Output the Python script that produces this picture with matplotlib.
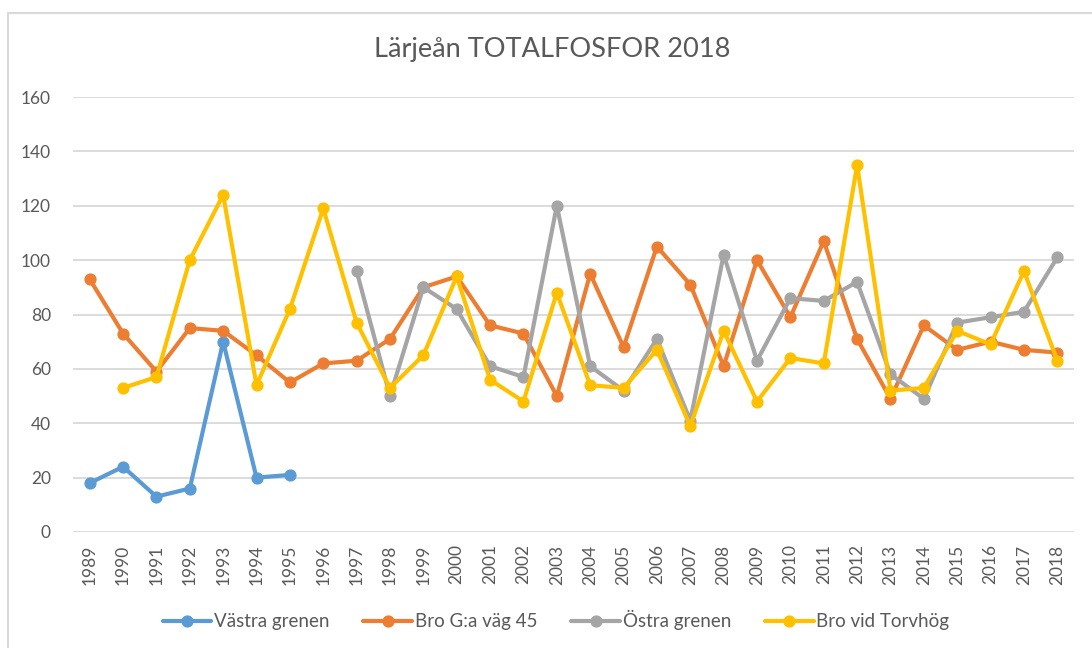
import numpy as np
import matplotlib
matplotlib.use("Agg")
from matplotlib import pyplot as plt
from matplotlib.patches import Rectangle

years = list(range(1989, 2019))
vastra = [18, 24, 13, 16, 70, 20, 21] + [None] * 23
bro_g45 = [93, 73, 59, 75, 74, 65, 55, 62, 63, 71, 90, 94, 76, 73, 50,
           95, 68, 105, 91, 61, 100, 79, 107, 71, 49, 76, 67, 70, 67, 66]
ostra = [None] * 8 + [96, 50, 90, 82, 61, 57, 120, 61, 52, 71, 41, 102,
                      63, 86, 85, 92, 58, 49, 77, 79, 81, 101]
torvhog = [None, 53, 57, 100, 124, 54, 82, 119, 77, 53, 65, 94, 56, 48, 88,
           54, 53, 67, 39, 74, 48, 64, 62, 135, 52, 53, 74, 69, 96, 63]

series = [
    ("Västra grenen", vastra, "#5B9BD5"),
    ("Bro G:a väg 45", bro_g45, "#ED7D31"),
    ("Östra grenen", ostra, "#A5A5A5"),
    ("Bro vid Torvhög", torvhog, "#FFC000"),
]

text_color = "#595959"
plt.rcParams['font.family'] = ['Lato', 'DejaVu Sans']

fig = plt.figure(figsize=(10.92, 6.48), dpi=100)
ax = fig.add_axes([73 / 1092, 1 - 532 / 648, (1074 - 73) / 1092, (532 - 97) / 648])

# chart area border (cut off at right and bottom in the reference)
fig.patches.append(Rectangle((8 / 1092, -0.1), 1.2, 1 - 13 / 648 + 0.1,
                             transform=fig.transFigure, fill=False,
                             edgecolor="#D9D9D9", linewidth=1.5))

for name, vals, color in series:
    y = np.array([np.nan if v is None else v for v in vals], dtype=float)
    ax.plot(years, y, color=color, linewidth=3.0, marker="o", markersize=7.8,
            label=name, solid_capstyle="round")

ax.set_xlim(1988.5, 2018.5)
ax.set_ylim(0, 160)
ax.set_yticks(range(0, 161, 20))
ax.set_xticks(years)
ax.set_xticklabels([str(y) for y in years], rotation=90)
ax.tick_params(axis="both", length=0, labelsize=12.5, labelcolor=text_color)
ax.tick_params(axis="y", pad=16)
ax.tick_params(axis="x", pad=9)
ax.grid(axis="y", color="#D9D9D9", linewidth=1.3)
ax.set_axisbelow(True)
for s in ax.spines.values():
    s.set_visible(False)

fig.text(552 / 1092, 1 - 49 / 648, "Lärjeån TOTALFOSFOR 2018", ha="center",
         va="center", fontsize=19.6, color=text_color)

leg = fig.legend(loc="center", bbox_to_anchor=(556 / 1092, 1 - 620 / 648),
                 ncol=4, frameon=False, fontsize=13.5, handlelength=2.6,
                 handletextpad=0.15, columnspacing=1.8)
for t in leg.get_texts():
    t.set_color(text_color)

fig.savefig("out.png", dpi=100)
